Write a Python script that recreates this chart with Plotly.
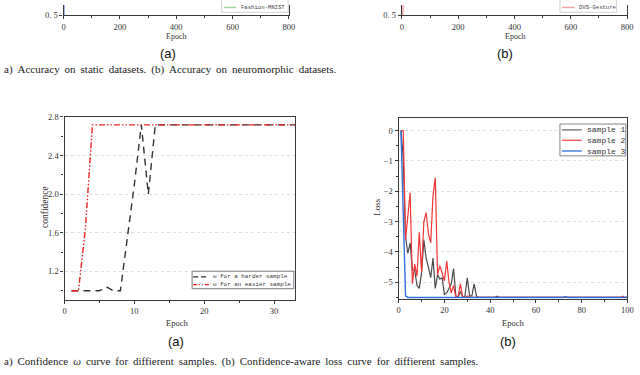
import plotly.graph_objects as go

W, H = 640, 375


def px(x):
    return x / W


def py(y):
    return 1 - y / H


# ---------------- data ----------------
# top row fragments (accuracy curves, only the bottom sliver is visible)
static_epochs = [1, 2, 5, 800]
static_acc = [0.30, 0.90, 0.95, 0.99]
neuro_epochs = [1, 2, 5, 800]
neuro_acc = [0.10, 0.60, 0.80, 0.95]

# confidence omega curves
hard_epochs = [1, 2, 3, 4, 5, 6, 7, 8, 9, 10, 11, 12, 13, 33]
hard_omega = [1.0, 1.0, 1.0, 1.0, 1.0, 1.04, 1.0, 1.0, 1.55, 2.1, 2.718, 2.0, 2.718, 2.718]
easy_epochs = [1, 2, 3, 4, 33]
easy_omega = [1.0, 1.0, 1.65, 2.718, 2.718]

# confidence-aware loss curves
s1_epochs = list(range(1, 36)) + [42, 43, 44, 100]
s1_loss = [0, -0.9, -3.5, -4.05, -3.7, -4.6, -4.6, -5.1, -5.2, -4.7,
           -3.6, -4.2, -4.5, -4.85, -4.2, -5.2, -4.75, -4.9, -4.85, -5.4,
           -5.35, -5.2, -5.05, -4.55, -5.45, -5.5, -5.3, -5.5, -5.45, -4.85,
           -5.45, -5.45, -5.05, -5.45, -5.5, -5.5, -5.46, -5.5, -5.5]
s2_epochs = list(range(1, 32)) + [97, 98, 99, 100]
s2_loss = [0, 0, -3.6, -2.9, -2.05, -5.05, -4.4, -4.8, -3.35, -4.65,
           -3.0, -2.7, -3.4, -3.7, -2.15, -1.55, -4.75, -4.45, -4.7, -4.95,
           -4.3, -5.0, -5.35, -5.1, -5.5, -5.45, -5.05, -5.5, -5.5, -5.45,
           -5.5, -5.5, -5.46, -5.5, -5.5]
s3_epochs = [1, 2, 3, 4, 72, 73, 74, 100]
s3_loss = [0, -2.7, -5.45, -5.5, -5.5, -5.47, -5.5, -5.5]

# ---------------- styles ----------------
AX = "#3a3a3a"
SERIF = "Liberation Serif"
MONO = "Liberation Mono"
C_S1, C_S2, C_S3 = "#4a4a4a", "#f53535", "#2f6fdc"

fig = go.Figure()

fig.add_trace(go.Scatter(x=static_epochs, y=static_acc, mode="lines", name="MNIST",
                         line=dict(color="#4f6fd6", width=1.2), xaxis="x", yaxis="y"))
fig.add_trace(go.Scatter(x=neuro_epochs, y=neuro_acc, mode="lines", name="DVS-Gesture",
                         line=dict(color="#f08a8a", width=1.2), xaxis="x2", yaxis="y2"))

fig.add_trace(go.Scatter(x=hard_epochs, y=hard_omega, mode="lines", name="ω for a harder sample",
                         line=dict(color="#333333", width=1.4, dash="7px,5px"),
                         xaxis="x3", yaxis="y3"))
fig.add_trace(go.Scatter(x=easy_epochs, y=easy_omega, mode="lines", name="ω for an easier sample",
                         line=dict(color="#ee2020", width=1.4, dash="6px,2px,1.5px,2px,1.5px,2px"),
                         xaxis="x3", yaxis="y3"))

fig.add_trace(go.Scatter(x=s1_epochs, y=s1_loss, mode="lines", name="sample 1",
                         line=dict(color=C_S1, width=1.2), xaxis="x4", yaxis="y4"))
fig.add_trace(go.Scatter(x=s2_epochs, y=s2_loss, mode="lines", name="sample 2",
                         line=dict(color=C_S2, width=1.2), xaxis="x4", yaxis="y4"))
fig.add_trace(go.Scatter(x=s3_epochs, y=s3_loss, mode="lines", name="sample 3",
                         line=dict(color=C_S3, width=1.4), xaxis="x4", yaxis="y4"))


def axis(**kw):
    base = dict(showline=True, linecolor=AX, linewidth=1.3, ticks="outside", ticklen=3,
                tickwidth=1, tickcolor=AX, showgrid=False, zeroline=False,
                tickfont=dict(family=SERIF, size=8.5, color="#333"))
    base.update(kw)
    return base


GRID = "#dedede"
top_dom = [py(10.5), 1.0]
fig.update_layout(
    width=W, height=H, margin=dict(l=0, r=0, t=0, b=0),
    paper_bgcolor="white", plot_bgcolor="white", showlegend=False,
    xaxis=axis(domain=[px(62.3), px(290.6)], range=[0, 800], dtick=200, anchor="y",
               minor=dict(dtick=100, ticks="outside", ticklen=2, tickcolor=AX)),
    yaxis=axis(domain=top_dom, range=[0.5, 0.56], tickvals=[0.5], ticktext=["0. 5"],
               mirror=True, anchor="x"),
    xaxis2=axis(domain=[px(405), px(633)], range=[0, 800], dtick=200, anchor="y2",
                minor=dict(dtick=100, ticks="outside", ticklen=2, tickcolor=AX)),
    yaxis2=axis(domain=top_dom, range=[0.5, 0.56], tickvals=[0.5], ticktext=["0. 5"],
                mirror=True, anchor="x2"),
    xaxis3=axis(domain=[px(63.3), px(296.7)], range=[0, 33], dtick=10, tick0=0, mirror=True,
                anchor="y3", minor=dict(dtick=5, ticks="outside", ticklen=2, tickcolor=AX)),
    yaxis3=axis(domain=[py(303), py(115)], range=[0.905, 2.8], dtick=0.4, tick0=1.2,
                tickformat=".1f", mirror=True, anchor="x3",
                showgrid=True, gridcolor=GRID, griddash="dot", gridwidth=1,
                minor=dict(dtick=0.2, tick0=1.2, ticks="outside", ticklen=2, tickcolor=AX,
                           showgrid=False)),
    xaxis4=axis(domain=[px(401.7), px(633.3)], range=[0, 100], dtick=20, mirror=True,
                anchor="y4", minor=dict(dtick=10, ticks="outside", ticklen=2, tickcolor=AX)),
    yaxis4=axis(domain=[py(301.7), py(115.7)], range=[-5.54, 0.43], dtick=1, tick0=0,
                mirror=True, anchor="x4",
                showgrid=True, gridcolor=GRID, griddash="dot", gridwidth=1,
                minor=dict(dtick=0.5, tick0=0, ticks="outside", ticklen=2, tickcolor=AX,
                           showgrid=False)),
)

shapes = []
ann = []


def text(x, y, s, size=8, family=SERIF, color="#333", anchor="center", angle=0):
    ann.append(dict(x=px(x), y=py(y), xref="paper", yref="paper", text=s, showarrow=False,
                    xanchor=anchor, yanchor="middle", textangle=angle,
                    font=dict(family=family, size=size, color=color)))


def hline(x0, x1, y, color, width=1.2, dash="solid"):
    shapes.append(dict(type="line", xref="paper", yref="paper", x0=px(x0), x1=px(x1),
                       y0=py(y), y1=py(y), line=dict(color=color, width=width, dash=dash)))


def box(x0, y0, x1, y1, color, width=0.8):
    shapes.append(dict(type="rect", xref="paper", yref="paper", x0=px(x0), x1=px(x1),
                       y0=py(y1), y1=py(y0), fillcolor="white",
                       line=dict(color=color, width=width)))


def justify(s):
    # widen word spacing like the justified caption text
    return s.replace(" ", " \u2009")


# top-row legend fragments
box(222.4, -6, 289.8, 7.5, "#c8c8c8")
hline(224.5, 237, 2.5, "#9fd49f", 1.5)
text(240, 2.5, "Fashion-MNIST", 5.6, MONO, "#444", "left")
box(565, -6, 622.4, 7.5, "#c8c8c8")
hline(567, 580, 2.5, "#f4a5a5", 1.5)
text(582, 2.5, "DVS-Gesture", 5.6, MONO, "#444", "left")

# middle-left legend
box(192.5, 273.5, 295.5, 291.5, "#555")
hline(193.5, 209.5, 279.3, "#333333", 1.3, "5px,3px")
hline(193.5, 209.5, 287.3, "#ee2020", 1.3, "4px,2px,1px,2px,1px,2px")
text(212, 279.3, "ω for a harder sample", 5.9, MONO, "#333", "left")
text(212, 287.3, "ω for an easier sample", 5.9, MONO, "#333", "left")

# middle-right legend
box(565, 122.3, 631.7, 155, "#666")
hline(567, 587, 128.3, "#777777", 1.4)
hline(567, 587, 139, "#f55a5a", 1.4)
hline(567, 587, 150, "#3a7ae0", 1.4)
text(590, 128.3, "sample 1", 8, MONO, "#333", "left")
text(590, 139, "sample 2", 8, MONO, "#333", "left")
text(590, 150, "sample 3", 8, MONO, "#333", "left")

# axis titles
text(176.5, 32, "Epoch", 8)
text(519, 32, "Epoch", 8)
text(177, 326.5, "Epoch", 8.5)
text(517, 326.5, "Epoch", 8.5)
text(44, 207, "confidence", 9.5, angle=-90)
text(380, 207, "Loss", 9, angle=-90)

# sub-figure labels
text(168, 50, "(a)", 13, "Liberation Sans", "#111")
text(509, 50, "(b)", 13, "Liberation Sans", "#111")
text(176, 346, "(a)", 13, "Liberation Sans", "#111")
text(512, 346, "(b)", 13, "Liberation Sans", "#111")

# captions
text(0, 66, justify("a) Accuracy on static datasets. (b) Accuracy on neuromorphic datasets."),
     11, SERIF, "#222", "left")
text(0, 366, justify("a) Confidence <i>ω</i> curve for diffierent samples. "
                     "(b) Confidence-aware loss curve for diffierent samples."),
     11, SERIF, "#222", "left")

fig.update_layout(shapes=shapes, annotations=ann)
fig.write_html(
    "out.html",
    config={"displayModeBar": False},
    post_script="document.body.style.margin='0';document.body.style.overflow='hidden';",
)
